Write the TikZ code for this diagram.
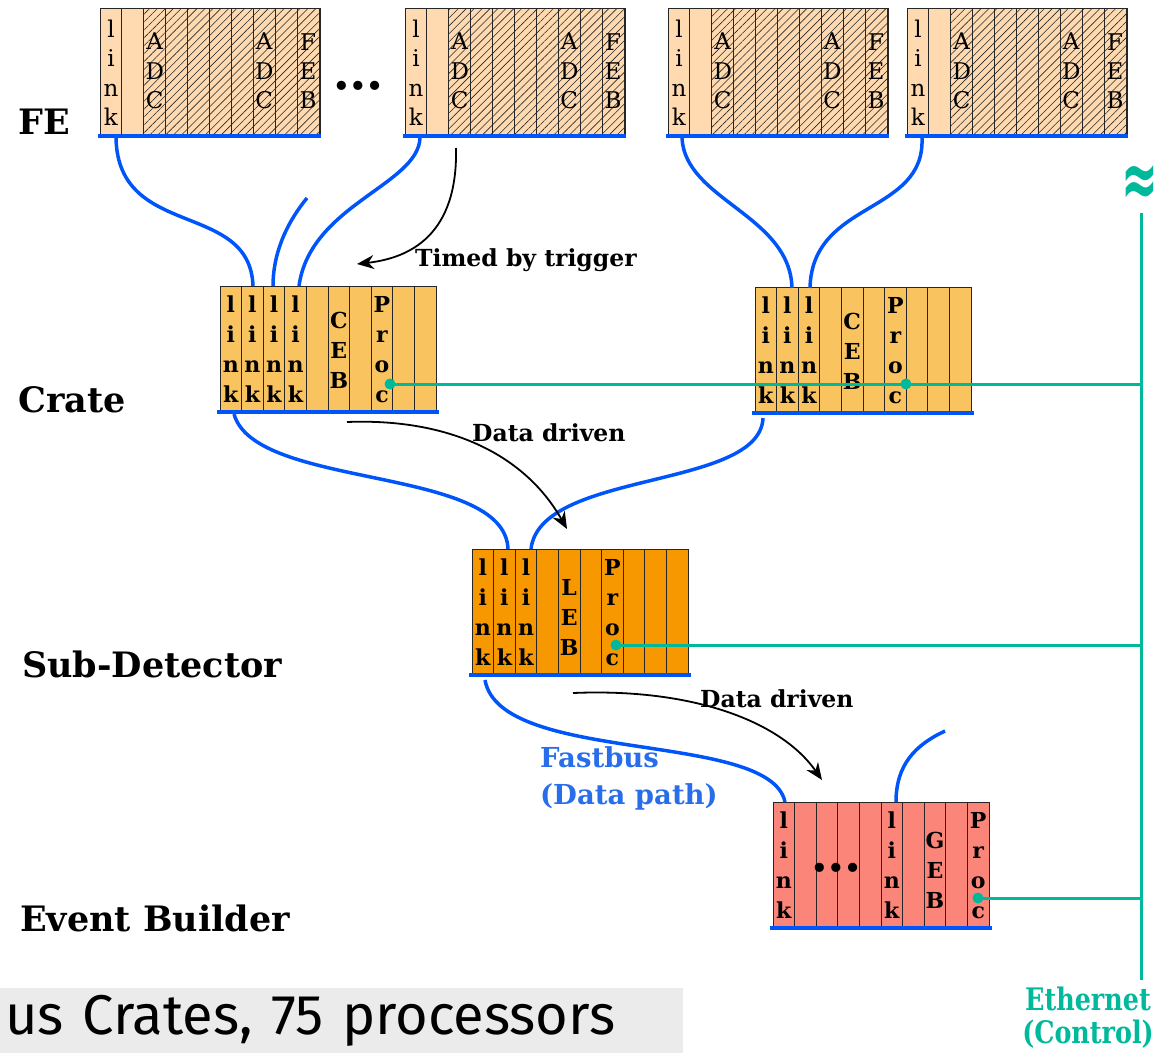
\documentclass[tikz,border=0pt]{standalone}
\usepackage{fontspec}
\setmainfont{DejaVu Serif}
\newfontfamily\slidefont{Fira Sans}
\newfontfamily\symfont{DejaVu Sans}
\newfontfamily\ethfont[FakeStretch=0.82]{DejaVu Serif}
\usetikzlibrary{arrows.meta, positioning, calc, patterns.meta}

\definecolor{fepeach}{RGB}{255,218,176}
\definecolor{cratecol}{RGB}{249,196,96}
\definecolor{subcol}{RGB}{247,152,0}
\definecolor{ebcol}{RGB}{250,133,120}
\definecolor{busblue}{RGB}{0,85,250}
\definecolor{fbblue}{RGB}{40,110,235}
\definecolor{ethteal}{RGB}{0,185,155}
\definecolor{slidegray}{RGB}{235,235,235}

\begin{document}
\begin{tikzpicture}[x=1pt, y=-1pt,
  rack/.style={rectangle, draw=black!85, line width=1pt, anchor=north west, inner sep=0pt, minimum width=216pt, minimum height=124pt},
  ferack/.style={rack, fill=fepeach, minimum width=219pt, minimum height=126pt},
  slot/.style={draw=black!85, line width=1pt},
  hatch/.style={pattern={Lines[angle=45, distance=5.6pt, line width=0.6pt]}, pattern color=black!85},
  bus/.style={busblue, line width=4pt},
  cable/.style={busblue, line width=3.5pt},
  flow/.style={-{Stealth[length=17pt, width=14pt]}, line width=1.8pt},
  ctrl/.style={ethteal, line width=3pt},
  felet/.style={font=\fontsize{23}{29.3}\selectfont, align=center, inner sep=0pt},
  cratelet/.style={font=\fontsize{22}{30}\selectfont\bfseries, align=center, inner sep=0pt},
  level/.style={font=\fontsize{35}{40}\selectfont\bfseries, anchor=west, inner sep=0pt},
  flowlabel/.style={font=\fontsize{23.5}{28}\selectfont\bfseries, anchor=west, inner sep=0pt},
  fblabel/.style={font=\fontsize{27.5}{37}\selectfont\bfseries, text=fbblue, align=left, anchor=west, inner sep=0pt},
  ethlabel/.style={font=\ethfont\fontsize{31}{33}\selectfont\bfseries, text=ethteal, align=center, inner sep=0pt},
  slidebox/.style={fill=slidegray, anchor=north west, inner xsep=5pt, inner ysep=0pt, text width=673pt, minimum height=65pt, align=left, font=\slidefont\fontsize{56}{60}\selectfont}
]
  \useasboundingbox (0,0) rectangle (1157,1053);

  % slide caption strip
  \node[slidebox] (slide) at (0,988) {us Crates, 75 processors};

  % front-end crates
  \foreach \nm/\x in {fe1/100, fe2/405, fe3/668, fe4/907} {
    \node[ferack] (\nm) at (\x,8) {};
    \fill[hatch] (\x+43.8,8) rectangle (\x+219,134);
    \foreach \i in {1,...,9} \draw[slot] (\x+\i*21.9,8) -- (\x+\i*21.9,134);
    \draw[slot] (\nm.north west) rectangle (\nm.south east);
    \draw[bus] (\x-2,136) -- (\x+221,136);
    \node[felet, anchor=north] (\nm-link) at (\x+10.95,20) {l\\i\\n\\k};
    \node[felet] (\nm-adc1) at (\x+54.75,71) {A\\D\\C};
    \node[felet] (\nm-adc2) at (\x+164.25,71) {A\\D\\C};
    \node[felet] (\nm-feb) at (\x+208.05,71) {F\\E\\B};
  }
  \node[font=\fontsize{26}{26}\selectfont\bfseries] (fedots) at (358,88) {•••};

  % crate, sub-detector and event builder racks
  \foreach \nm/\x/\y/\col in {crL/220/286/cratecol, crR/755/287/cratecol, sub/472/549/subcol, eb/773/802/ebcol} {
    \node[rack, fill=\col] (\nm) at (\x,\y) {};
    \foreach \i in {1,...,9} \draw[slot] (\x+\i*21.6,\y) -- (\x+\i*21.6,\y+124);
    \draw[bus] (\x-3,\y+126) -- (\x+219,\y+126);
  }
  \foreach \i in {1,...,4}
    \node[cratelet, anchor=north] (crL-link\i) at (220+\i*21.6-10.8,296) {l\\i\\n\\k};
  \node[cratelet] (crL-ceb) at (338.8,350) {C\\E\\B};
  \node[cratelet, anchor=north] (crL-proc) at (382,296) {P\\r\\o\\c};
  \foreach \i in {1,...,3}
    \node[cratelet, anchor=north] (crR-link\i) at (755+\i*21.6-10.8,297) {l\\i\\n\\k};
  \node[cratelet] (crR-ceb) at (852.2,351) {C\\E\\B};
  \node[cratelet, anchor=north] (crR-proc) at (895.4,297) {P\\r\\o\\c};
  \foreach \i in {1,...,3}
    \node[cratelet, anchor=north] (sub-link\i) at (472+\i*21.6-10.8,559) {l\\i\\n\\k};
  \node[cratelet] (sub-leb) at (569.2,617) {L\\E\\B};
  \node[cratelet, anchor=north] (sub-proc) at (612.4,559) {P\\r\\o\\c};
  \node[cratelet, anchor=north] (eb-link1) at (783.8,812) {l\\i\\n\\k};
  \node[font=\fontsize{26}{26}\selectfont\bfseries] (eb-dots) at (836,870) {•••};
  \node[cratelet, anchor=north] (eb-link2) at (891.8,812) {l\\i\\n\\k};
  \node[cratelet] (eb-geb) at (935,870) {G\\E\\B};
  \node[cratelet, anchor=north] (eb-proc) at (978.2,812) {P\\r\\o\\c};

  % fastbus cables
  \coordinate (fe1-out) at (116,138);
  \coordinate (fe2-out) at (420,138);
  \coordinate (fe3-out) at (682,138);
  \coordinate (fe4-out) at (922,138);
  \coordinate (crL-in1) at (253,286);
  \coordinate (crL-in2) at (273,286);
  \coordinate (crL-in3) at (299,286);
  \coordinate (crL-free) at (307,198);
  \coordinate (crR-in1) at (792,288);
  \coordinate (crR-in2) at (810,288);
  \coordinate (crL-out) at (234,414);
  \coordinate (crR-out) at (763,418);
  \coordinate (sub-in1) at (508,549);
  \coordinate (sub-in2) at (531,549);
  \coordinate (sub-out) at (485,680);
  \coordinate (eb-in1) at (785,802);
  \coordinate (eb-in2) at (896,802);
  \coordinate (eb-free) at (945,731);
  \draw[cable] (fe1-out) .. controls (118,240) and (250,200) .. (crL-in1);
  \draw[cable] (crL-free) .. controls (285,225) and (273,255) .. (crL-in2);
  \draw[cable] (fe2-out) .. controls (418,185) and (310,205) .. (crL-in3);
  \draw[cable] (fe3-out) .. controls (685,200) and (790,215) .. (crR-in1);
  \draw[cable] (fe4-out) .. controls (925,215) and (812,200) .. (crR-in2);
  \draw[cable] (crL-out) .. controls (255,490) and (505,465) .. (sub-in1);
  \draw[cable] (crR-out) .. controls (760,490) and (540,470) .. (sub-in2);
  \draw[cable] (sub-out) .. controls (500,765) and (770,730) .. (eb-in1);
  \draw[cable] (eb-in2) .. controls (896,765) and (915,745) .. (eb-free);

  % data flow
  \coordinate (trig-from) at (456,148);
  \coordinate (trig-to) at (357,264);
  \coordinate (dd1-from) at (347,422);
  \coordinate (dd1-to) at (567,529);
  \coordinate (dd2-from) at (573,693);
  \coordinate (dd2-to) at (822,780);
  \draw[flow] (trig-from) .. controls (458,235) and (410,258) .. (trig-to);
  \draw[flow] (dd1-from) .. controls (450,418) and (525,455) .. (dd1-to);
  \draw[flow] (dd2-from) .. controls (690,688) and (780,720) .. (dd2-to);
  \node[flowlabel] (lblTimed) at (415,260) {Timed by trigger};
  \node[flowlabel] (lblData1) at (472,433) {Data driven};
  \node[flowlabel] (lblData2) at (700,699) {Data driven};
  \node[fblabel] (lblFastbus) at (540,778) {Fastbus\\(Data path)};

  % ethernet control
  \coordinate (eth-top) at (1141,213);
  \coordinate (eth-bot) at (1141,980);
  \coordinate (eth-crate) at (1141,384);
  \coordinate (eth-sub) at (1141,645);
  \coordinate (eth-eb) at (1141,898);
  \coordinate (crL-dot) at (390,384);
  \coordinate (crR-dot) at (906,384);
  \coordinate (sub-dot) at (616,645);
  \coordinate (eb-dot) at (978,898);
  \draw[ctrl] (eth-top) -- (eth-bot);
  \draw[ctrl] (crL-dot) -- (eth-crate);
  \draw[ctrl] (sub-dot) -- (eth-sub);
  \draw[ctrl] (eb-dot) -- (eth-eb);
  \foreach \d in {crL-dot, crR-dot, sub-dot, eb-dot}
    \fill[ethteal] (\d) circle (5.5);
  \node[text=ethteal, font=\symfont\bfseries\fontsize{44}{44}\selectfont, inner sep=0pt] (brk) at (1140,186) {\scalebox{1}[1.8]{≈}};
  \node[ethlabel] (lblEth) at (1088,1018) {Ethernet\\(Control)};

  % level names
  \node[level] (lblFE) at (18,122) {FE};
  \node[level] (lblCrate) at (18,400) {Crate};
  \node[level] (lblSub) at (22,664) {Sub-Detector};
  \node[level] (lblEB) at (20,918) {Event Builder};
\end{tikzpicture}
\end{document}
